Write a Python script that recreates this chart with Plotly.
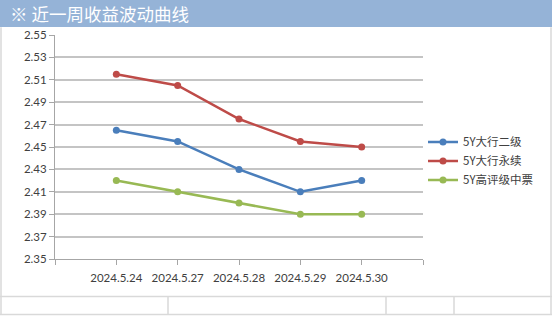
import plotly.graph_objects as go

dates = ["2024.5.24", "2024.5.27", "2024.5.28", "2024.5.29", "2024.5.30"]
s_names = ["5Y大行二级", "5Y大行永续", "5Y高评级中票"]
s_blue = [2.465, 2.455, 2.430, 2.410, 2.420]
s_red = [2.515, 2.505, 2.475, 2.455, 2.450]
s_green = [2.420, 2.410, 2.400, 2.390, 2.390]
colors = ["#4A7EBB", "#BE4B48", "#98B954"]
y_ticks = [2.35, 2.37, 2.39, 2.41, 2.43, 2.45, 2.47, 2.49, 2.51, 2.53, 2.55]
title_text = "※ 近一周收益波动曲线"

xpos = list(range(len(dates)))
fig = go.Figure()
for name, vals, c in zip(s_names, [s_blue, s_red, s_green], colors):
    fig.add_trace(go.Scatter(x=xpos, y=vals, name=name, mode="lines+markers",
                             line=dict(color=c, width=2.5),
                             marker=dict(color=c, size=7)))

W, H = 552, 316
fig.update_layout(
    width=W, height=H,
    margin=dict(l=55, r=129, t=35, b=57),
    paper_bgcolor="white", plot_bgcolor="white",
    font=dict(family="Lato, Noto Sans CJK SC", size=11, color="#404040"),
    legend=dict(x=1.0, y=0.438, xanchor="left", yanchor="middle",
                font=dict(family="Noto Sans CJK SC", size=11.5, color="#404040"),
                tracegroupgap=6, itemwidth=30, bgcolor="rgba(0,0,0,0)"),
    showlegend=True,
)
fig.update_xaxes(
    range=[-1, len(dates)], tickmode="array",
    tickvals=[-1] + xpos + [len(dates)], ticktext=[""] + dates + [""],
    showgrid=False, showline=True, linecolor="#A6A6A6", linewidth=1,
    ticks="outside", ticklen=5, tickcolor="#A6A6A6", ticklabelstandoff=3,
    tickfont=dict(size=11.5, color="#404040"), zeroline=False, fixedrange=True,
)
fig.update_yaxes(
    range=[2.35, 2.55], tickmode="array", tickvals=y_ticks,
    ticktext=[f"{v:.2f}" for v in y_ticks],
    showgrid=True, gridcolor="#C4C4C4", gridwidth=1.5,
    showline=True, linecolor="#A6A6A6", linewidth=1,
    ticks="outside", ticklen=5, tickcolor="#A6A6A6",
    tickfont=dict(size=11.5, color="#404040"), zeroline=False,
)

# title bar
fig.add_shape(type="rect", xref="paper", yref="paper", x0=-55/368, x1=(552-55)/368,
              y0=1 + 8/224.6, y1=1 + 35/224.6, fillcolor="#95B3D7", line_width=0, layer="below")
fig.add_annotation(text=title_text, xref="paper", yref="paper", x=-47/368, y=1 + 21.5/224.6,
                   xanchor="left", yanchor="middle", showarrow=False,
                   font=dict(family="Noto Sans CJK SC", size=17.5, color="white"))

# frame/table lines at bottom
def px_x(p):
    return (p - 55) / 368
def px_y(p):
    return (259.3 - p) / 224.6

line_style = dict(color="#D9D9D9", width=1.5)
fig.add_shape(type="line", xref="paper", yref="paper", x0=px_x(0), x1=px_x(552), y0=px_y(297), y1=px_y(297), line=line_style)
fig.add_shape(type="line", xref="paper", yref="paper", x0=px_x(0), x1=px_x(552), y0=px_y(315), y1=px_y(315), line=line_style)
for xv in [1, 168, 386, 454, 551]:
    y_top = px_y(297) if xv not in (1, 551) else px_y(27)
    fig.add_shape(type="line", xref="paper", yref="paper", x0=px_x(xv), x1=px_x(xv), y0=y_top, y1=px_y(315), line=line_style)

fig.write_html("out.html")
